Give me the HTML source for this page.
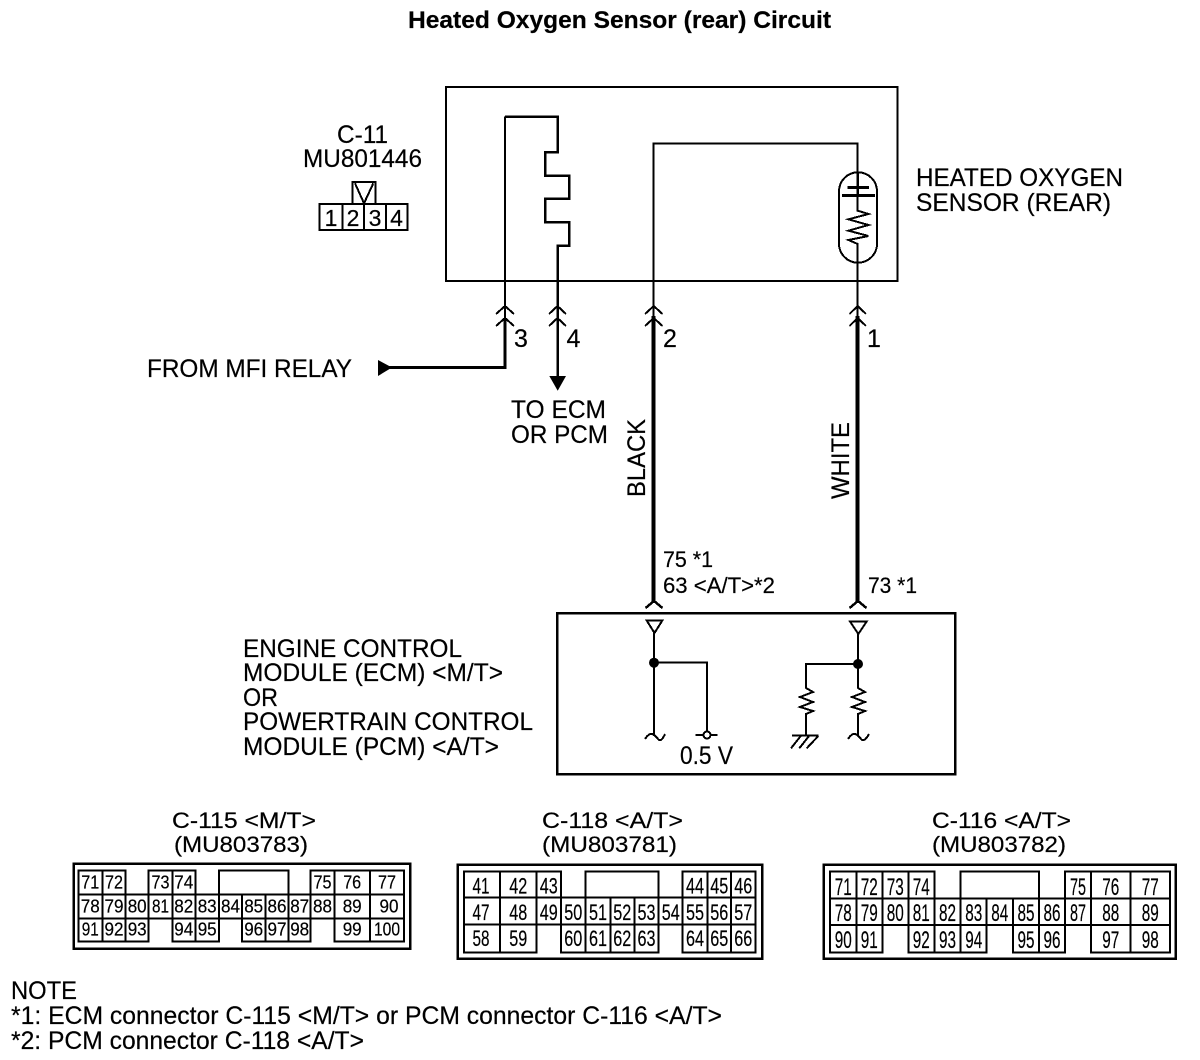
<!DOCTYPE html>
<html><head><meta charset="utf-8"><style>
html,body{margin:0;padding:0;background:#fff}
svg{display:block}
text{font-family:"Liberation Sans",sans-serif;fill:#000;stroke:#000;stroke-width:.2px}
.m{font-size:25px}
.s{font-size:22px}
.a text{text-anchor:middle;font-size:18px}
.b text{text-anchor:middle;font-size:22.500px}
.c text{text-anchor:middle;font-size:24px}
</style></head><body>
<svg width="1200" height="1060" viewBox="0 0 1200 1060" xmlns="http://www.w3.org/2000/svg">
<text x="408" y="28" font-size="24" font-weight="bold" textLength="423" lengthAdjust="spacingAndGlyphs">Heated Oxygen Sensor (rear) Circuit</text>

<g fill="none" stroke="#000" shape-rendering="crispEdges">
<rect x="446" y="87" width="451.500" height="194" stroke-width="2"/>
<path d="M505 116.500H557.500V152H545V175.500H569V198.700H545V222H569V245.500H557.500V305" stroke-width="2.500"/>
<path d="M505 320V116.500" stroke-width="2"/>
<path d="M557.500 281V378" stroke-width="2.500"/>
<path d="M505 318V367.300H385" stroke-width="3"/>
<path d="M653.700 318V143.500H857.700V172M857.700 281V318" stroke-width="2"/>
<path d="M653.700 316V603M857.700 316V603" stroke-width="4"/>
<path d="M496 314L505 306L514 314M496 326L505 318L514 326M549 314L557.500 306L566 314M549 326L557.500 318L566 326M645 314L653.700 306L662.500 314M645 326L653.700 318L662.500 326M849.500 314L857.700 306L866 314M849.500 326L857.700 318L866 326" stroke-width="2"/>
<rect x="839" y="172.300" width="38" height="90.400" rx="19" ry="19" stroke-width="2"/>
<path d="M857.700 172V196" stroke-width="2.500"/>
<path d="M847.300 187.300H869M842 195.300H875" stroke-width="3"/>
<path d="M857.700 196V210.700L868.500 214L848.500 219.300L868.500 225L848.500 230.700L868.500 236L848.500 240L857.700 244V281" stroke-width="2"/>

<rect x="557" y="613.300" width="398" height="161" stroke-width="2.500"/>
<path d="M645.500 608L654 601L662.500 608M849.500 608L858 601L866.500 608" stroke-width="2.500"/>
<path d="M646.700 620.500H662.300L654.500 633ZM850 621.500H866.700L858.300 634Z" stroke-width="2"/>
<path d="M654 633V736M654 662.700H707V731M858 634V688L865 692L852 697L865 702L852 707L865 711L858 714V736M858 664H806V688L813 692L800 697L813 702L800 707L813 711L806 714V735" stroke-width="2"/>
<path d="M645 739Q649 733 652 734T658 739T665 734M848 739Q852 733 855 734T861 739T869 734" stroke-width="2"/>
<path d="M695.300 735H703.500M710.500 735H717.700" stroke-width="2"/>
<circle cx="707" cy="735" r="3.500" stroke-width="2"/>
<path d="M792 735.500H818.500M800.700 736L791 748.300M809 736L799.300 748.300M818.300 736L806.700 748.300" stroke-width="2"/>

<path d="M319.300 204H407.300V230H319.300ZM342.300 204V230M364 204V230M386 204V230M352.700 204V182H375.300V204M355 183.300L364 203.300L373.300 183.300" stroke-width="2"/>

<rect x="73.500" y="863.500" width="336.500" height="85" stroke-width="2.500"/>
<path d="M78.300 894.700H404V918.300H78.300ZM102.300 894.700V918.300M125.700 894.700V918.300M148.700 894.700V918.300M172.300 894.700V918.300M195.300 894.700V918.300M219 894.700V918.300M242 894.700V918.300M265.300 894.700V918.300M288.700 894.700V918.300M310.700 894.700V918.300M334.300 894.700V918.300M370 894.700V918.300M78.300 894.700V870.700H125.700V894.700M102.300 870.700V894.700M148.700 894.700V870.700H195.300V894.700M172.300 870.700V894.700M219 894.700V870.700H288.700V894.700M310.700 894.700V870.700H404V894.700M334.300 870.700V894.700M370 870.700V894.700M78.300 918.300V941.700H148.700V918.300M102.300 918.300V941.700M125.700 918.300V941.700M172.300 918.300V941.700H219V918.300M195.300 918.300V941.700M242 918.300V941.700H310.700V918.300M265.300 918.300V941.700M288.700 918.300V941.700M334.300 918.300V941.700H404V918.300M370 918.300V941.700" stroke-width="2"/>

<rect x="457.500" y="864.500" width="304.500" height="94" stroke-width="2.500"/>
<path d="M464 897.700H755.700V924.700H464ZM500 897.700V924.700M536.300 897.700V924.700M561 897.700V924.700M585.700 897.700V924.700M610.300 897.700V924.700M634.300 897.700V924.700M658.700 897.700V924.700M682.700 897.700V924.700M707.300 897.700V924.700M731 897.700V924.700M464 897.700V871.300H561V897.700M500 871.300V897.700M536.300 871.300V897.700M585.700 897.700V871.300H658.700V897.700M682.700 897.700V871.300H755.700V897.700M707.300 871.300V897.700M731 871.300V897.700M464 924.700V952.300H536.300V924.700M500 924.700V952.300M561 924.700V952.300H658.700V924.700M585.700 924.700V952.300M610.300 924.700V952.300M634.300 924.700V952.300M682.700 924.700V952.300H755.700V924.700M707.300 924.700V952.300M731 924.700V952.300" stroke-width="2"/>

<rect x="823.500" y="864.500" width="352" height="94" stroke-width="2.500"/>
<path d="M830 898.300H1170V925H830ZM856.300 898.300V925M882.300 898.300V925M908.300 898.300V925M934.300 898.300V925M960.700 898.300V925M986.700 898.300V925M1013 898.300V925M1039 898.300V925M1065 898.300V925M1091 898.300V925M1130.300 898.300V925M830 898.300V871.300H934.300V898.300M856.300 871.300V898.300M882.300 871.300V898.300M908.300 871.300V898.300M960.700 898.300V871.300H1039V898.300M1065 898.300V871.300H1170V898.300M1091 871.300V898.300M1130.300 871.300V898.300M830 925V952.300H882.300V925M856.300 925V952.300M908.300 925V952.300H986.700V925M934.300 925V952.300M960.700 925V952.300M1013 925V952.300H1065V925M1039 925V952.300M1091 925V952.300H1170V925M1130.300 925V952.300" stroke-width="2"/>
</g>

<path d="M549.300 376H566L557.700 390.700Z"/>
<path d="M378 360L392 367.500L378 376Z"/>
<circle cx="654" cy="662.700" r="5"/>
<circle cx="858" cy="664" r="5"/>

<text class="m" x="337" y="143" textLength="51" lengthAdjust="spacingAndGlyphs">C-11</text>
<text class="m" x="303" y="167" textLength="119" lengthAdjust="spacingAndGlyphs">MU801446</text>
<text x="331" y="226" text-anchor="middle" font-size="23">1</text>
<text x="353" y="226" text-anchor="middle" font-size="23">2</text>
<text x="375" y="226" text-anchor="middle" font-size="23">3</text>
<text x="396.500" y="226" text-anchor="middle" font-size="23">4</text>
<text class="m" x="916" y="186" textLength="207" lengthAdjust="spacingAndGlyphs">HEATED OXYGEN</text>
<text class="m" x="916" y="211" textLength="195" lengthAdjust="spacingAndGlyphs">SENSOR (REAR)</text>
<text class="m" x="147" y="377" textLength="205" lengthAdjust="spacingAndGlyphs">FROM MFI RELAY</text>
<text class="m" x="511" y="418" textLength="95" lengthAdjust="spacingAndGlyphs">TO ECM</text>
<text class="m" x="511" y="443" textLength="97" lengthAdjust="spacingAndGlyphs">OR PCM</text>
<text class="m" x="514" y="347">3</text>
<text class="m" x="566.500" y="347">4</text>
<text class="m" x="663" y="347">2</text>
<text class="m" x="867" y="347">1</text>
<text class="m" transform="translate(645 497) rotate(-90)" textLength="78" lengthAdjust="spacingAndGlyphs">BLACK</text>
<text class="m" transform="translate(849 499) rotate(-90)" textLength="77" lengthAdjust="spacingAndGlyphs">WHITE</text>
<text class="s" x="663" y="567" textLength="50" lengthAdjust="spacingAndGlyphs">75 *1</text>
<text class="s" x="663" y="593" textLength="112" lengthAdjust="spacingAndGlyphs">63 &lt;A/T&gt;*2</text>
<text class="s" x="868" y="593" textLength="49" lengthAdjust="spacingAndGlyphs">73 *1</text>
<text class="m" x="243" y="657" textLength="219" lengthAdjust="spacingAndGlyphs">ENGINE CONTROL</text>
<text class="m" x="243" y="681" textLength="260" lengthAdjust="spacingAndGlyphs">MODULE (ECM) &lt;M/T&gt;</text>
<text class="m" x="243" y="706" textLength="35" lengthAdjust="spacingAndGlyphs">OR</text>
<text class="m" x="243" y="730" textLength="290" lengthAdjust="spacingAndGlyphs">POWERTRAIN CONTROL</text>
<text class="m" x="243" y="755" textLength="256" lengthAdjust="spacingAndGlyphs">MODULE (PCM) &lt;A/T&gt;</text>
<text class="m" x="680" y="764" textLength="53" lengthAdjust="spacingAndGlyphs">0.5 V</text>

<text class="s" x="172" y="828" textLength="144" lengthAdjust="spacingAndGlyphs">C-115 &lt;M/T&gt;</text>
<text class="s" x="174" y="852" textLength="134" lengthAdjust="spacingAndGlyphs">(MU803783)</text>
<text class="s" x="542" y="828" textLength="141" lengthAdjust="spacingAndGlyphs">C-118 &lt;A/T&gt;</text>
<text class="s" x="542" y="852" textLength="135" lengthAdjust="spacingAndGlyphs">(MU803781)</text>
<text class="s" x="932" y="828" textLength="139" lengthAdjust="spacingAndGlyphs">C-116 &lt;A/T&gt;</text>
<text class="s" x="932" y="852" textLength="134" lengthAdjust="spacingAndGlyphs">(MU803782)</text>

<g class="a">
<text x="90.300" y="888.500" textLength="18" lengthAdjust="spacingAndGlyphs">71</text>
<text x="114" y="888.500" textLength="18" lengthAdjust="spacingAndGlyphs">72</text>
<text x="160.500" y="888.500" textLength="18" lengthAdjust="spacingAndGlyphs">73</text>
<text x="183.800" y="888.500" textLength="19" lengthAdjust="spacingAndGlyphs">74</text>
<text x="322.500" y="888.500" textLength="18" lengthAdjust="spacingAndGlyphs">75</text>
<text x="352.200" y="888.500" textLength="18" lengthAdjust="spacingAndGlyphs">76</text>
<text x="387" y="888.500" textLength="18" lengthAdjust="spacingAndGlyphs">77</text>
<text x="90.300" y="912.500" textLength="19" lengthAdjust="spacingAndGlyphs">78</text>
<text x="114" y="912.500" textLength="19" lengthAdjust="spacingAndGlyphs">79</text>
<text x="137.200" y="912.500" textLength="19" lengthAdjust="spacingAndGlyphs">80</text>
<text x="160.500" y="912.500" textLength="17" lengthAdjust="spacingAndGlyphs">81</text>
<text x="183.800" y="912.500" textLength="19" lengthAdjust="spacingAndGlyphs">82</text>
<text x="207.200" y="912.500" textLength="19" lengthAdjust="spacingAndGlyphs">83</text>
<text x="230.500" y="912.500" textLength="19" lengthAdjust="spacingAndGlyphs">84</text>
<text x="253.700" y="912.500" textLength="19" lengthAdjust="spacingAndGlyphs">85</text>
<text x="277" y="912.500" textLength="19" lengthAdjust="spacingAndGlyphs">86</text>
<text x="299.700" y="912.500" textLength="19" lengthAdjust="spacingAndGlyphs">87</text>
<text x="322.500" y="912.500" textLength="19" lengthAdjust="spacingAndGlyphs">88</text>
<text x="352.200" y="912.500" textLength="19" lengthAdjust="spacingAndGlyphs">89</text>
<text x="389" y="912.500" textLength="19" lengthAdjust="spacingAndGlyphs">90</text>
<text x="90.300" y="935.500" textLength="17" lengthAdjust="spacingAndGlyphs">91</text>
<text x="114" y="935.500" textLength="19" lengthAdjust="spacingAndGlyphs">92</text>
<text x="137.200" y="935.500" textLength="19" lengthAdjust="spacingAndGlyphs">93</text>
<text x="183.800" y="935.500" textLength="19" lengthAdjust="spacingAndGlyphs">94</text>
<text x="207.200" y="935.500" textLength="19" lengthAdjust="spacingAndGlyphs">95</text>
<text x="253.700" y="935.500" textLength="19" lengthAdjust="spacingAndGlyphs">96</text>
<text x="277" y="935.500" textLength="19" lengthAdjust="spacingAndGlyphs">97</text>
<text x="299.700" y="935.500" textLength="19" lengthAdjust="spacingAndGlyphs">98</text>
<text x="352.200" y="935.500" textLength="19" lengthAdjust="spacingAndGlyphs">99</text>
<text x="387" y="935.500" textLength="26" lengthAdjust="spacingAndGlyphs">100</text>
</g>

<g class="b">
<text x="481" y="893.500" textLength="17" lengthAdjust="spacingAndGlyphs">41</text>
<text x="518.200" y="893.500" textLength="18" lengthAdjust="spacingAndGlyphs">42</text>
<text x="548.700" y="893.500" textLength="18" lengthAdjust="spacingAndGlyphs">43</text>
<text x="695" y="893.500" textLength="18" lengthAdjust="spacingAndGlyphs">44</text>
<text x="719.200" y="893.500" textLength="18" lengthAdjust="spacingAndGlyphs">45</text>
<text x="743.300" y="893.500" textLength="18" lengthAdjust="spacingAndGlyphs">46</text>
<text x="481" y="920" textLength="17" lengthAdjust="spacingAndGlyphs">47</text>
<text x="518.200" y="920" textLength="18" lengthAdjust="spacingAndGlyphs">48</text>
<text x="548.700" y="920" textLength="18" lengthAdjust="spacingAndGlyphs">49</text>
<text x="573.300" y="920" textLength="18" lengthAdjust="spacingAndGlyphs">50</text>
<text x="598" y="920" textLength="18" lengthAdjust="spacingAndGlyphs">51</text>
<text x="622.300" y="920" textLength="18" lengthAdjust="spacingAndGlyphs">52</text>
<text x="646.500" y="920" textLength="18" lengthAdjust="spacingAndGlyphs">53</text>
<text x="670.700" y="920" textLength="18" lengthAdjust="spacingAndGlyphs">54</text>
<text x="695" y="920" textLength="18" lengthAdjust="spacingAndGlyphs">55</text>
<text x="719.200" y="920" textLength="18" lengthAdjust="spacingAndGlyphs">56</text>
<text x="743.300" y="920" textLength="18" lengthAdjust="spacingAndGlyphs">57</text>
<text x="481" y="946" textLength="17" lengthAdjust="spacingAndGlyphs">58</text>
<text x="518.200" y="946" textLength="18" lengthAdjust="spacingAndGlyphs">59</text>
<text x="573.300" y="946" textLength="18" lengthAdjust="spacingAndGlyphs">60</text>
<text x="598" y="946" textLength="18" lengthAdjust="spacingAndGlyphs">61</text>
<text x="622.300" y="946" textLength="18" lengthAdjust="spacingAndGlyphs">62</text>
<text x="646.500" y="946" textLength="18" lengthAdjust="spacingAndGlyphs">63</text>
<text x="695" y="946" textLength="18" lengthAdjust="spacingAndGlyphs">64</text>
<text x="719.200" y="946" textLength="18" lengthAdjust="spacingAndGlyphs">65</text>
<text x="743.300" y="946" textLength="18" lengthAdjust="spacingAndGlyphs">66</text>
</g>

<g class="c">
<text x="843.200" y="895" textLength="17" lengthAdjust="spacingAndGlyphs">71</text>
<text x="869.300" y="895" textLength="17" lengthAdjust="spacingAndGlyphs">72</text>
<text x="895.300" y="895" textLength="17" lengthAdjust="spacingAndGlyphs">73</text>
<text x="921.300" y="895" textLength="17" lengthAdjust="spacingAndGlyphs">74</text>
<text x="1078" y="895" textLength="16" lengthAdjust="spacingAndGlyphs">75</text>
<text x="1110.700" y="895" textLength="17" lengthAdjust="spacingAndGlyphs">76</text>
<text x="1150.200" y="895" textLength="17" lengthAdjust="spacingAndGlyphs">77</text>
<text x="843.200" y="921" textLength="17" lengthAdjust="spacingAndGlyphs">78</text>
<text x="869.300" y="921" textLength="17" lengthAdjust="spacingAndGlyphs">79</text>
<text x="895.300" y="921" textLength="17" lengthAdjust="spacingAndGlyphs">80</text>
<text x="921.300" y="921" textLength="17" lengthAdjust="spacingAndGlyphs">81</text>
<text x="947.500" y="921" textLength="17" lengthAdjust="spacingAndGlyphs">82</text>
<text x="973.700" y="921" textLength="17" lengthAdjust="spacingAndGlyphs">83</text>
<text x="999.800" y="921" textLength="17" lengthAdjust="spacingAndGlyphs">84</text>
<text x="1026" y="921" textLength="17" lengthAdjust="spacingAndGlyphs">85</text>
<text x="1052" y="921" textLength="17" lengthAdjust="spacingAndGlyphs">86</text>
<text x="1078" y="921" textLength="16" lengthAdjust="spacingAndGlyphs">87</text>
<text x="1110.700" y="921" textLength="17" lengthAdjust="spacingAndGlyphs">88</text>
<text x="1150.200" y="921" textLength="17" lengthAdjust="spacingAndGlyphs">89</text>
<text x="843.200" y="948" textLength="17" lengthAdjust="spacingAndGlyphs">90</text>
<text x="869.300" y="948" textLength="17" lengthAdjust="spacingAndGlyphs">91</text>
<text x="921.300" y="948" textLength="17" lengthAdjust="spacingAndGlyphs">92</text>
<text x="947.500" y="948" textLength="17" lengthAdjust="spacingAndGlyphs">93</text>
<text x="973.700" y="948" textLength="17" lengthAdjust="spacingAndGlyphs">94</text>
<text x="1026" y="948" textLength="17" lengthAdjust="spacingAndGlyphs">95</text>
<text x="1052" y="948" textLength="17" lengthAdjust="spacingAndGlyphs">96</text>
<text x="1110.700" y="948" textLength="17" lengthAdjust="spacingAndGlyphs">97</text>
<text x="1150.200" y="948" textLength="17" lengthAdjust="spacingAndGlyphs">98</text>
</g>

<text class="m" x="11" y="999" textLength="66" lengthAdjust="spacingAndGlyphs">NOTE</text>
<text class="m" x="11" y="1024" textLength="711" lengthAdjust="spacingAndGlyphs">*1: ECM connector C-115 &lt;M/T&gt; or PCM connector C-116 &lt;A/T&gt;</text>
<text class="m" x="11" y="1049" textLength="353" lengthAdjust="spacingAndGlyphs">*2: PCM connector C-118 &lt;A/T&gt;</text>
</svg>
</body></html>
